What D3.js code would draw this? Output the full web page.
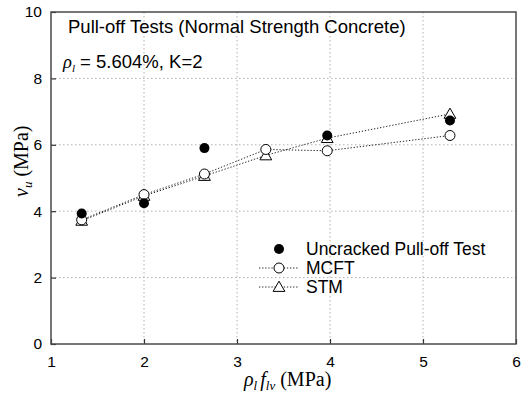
<!DOCTYPE html>
<html>
<head>
<meta charset="utf-8">
<script src="https://cdn.jsdelivr.net/npm/d3@7"></script>
<style>
  body { margin: 0; background: #fff; }
  svg { display: block; }
</style>
</head>
<body>
<div id="chart"></div>
<script>
const w = 521,
    h = 393,
    plotLeft = 51,
    plotRight = 516,
    plotTop = 12,
    plotBottom = 344,
    sans = 'Liberation Sans, Arial, sans-serif',
    serif = 'Liberation Serif, Times New Roman, serif';

// values
const xTicks = [1, 2, 3, 4, 5, 6];
const yTicks = [0, 2, 4, 6, 8, 10];
const uncrackedX = [1.33, 2.0, 2.65, 3.97, 5.29];
const uncrackedY = [3.93, 4.24, 5.9, 6.28, 6.73];
const modelX = [1.33, 2.0, 2.65, 3.31, 3.97, 5.29];
const mcftY = [3.74, 4.5, 5.12, 5.86, 5.82, 6.28];
const stmY = [3.71, 4.46, 5.06, 5.68, 6.2, 6.93];

const x = d3.scaleLinear().domain([1, 6]).range([plotLeft, plotRight]);
const y = d3.scaleLinear().domain([0, 10]).range([plotBottom, plotTop]);

const svg = d3.select('#chart').append('svg')
    .attr('width', w)
    .attr('height', h);

// grid
svg.append('g')
    .selectAll('line')
    .data(xTicks.slice(1, -1))
    .join('line')
    .attr('x1', d => x(d)).attr('x2', d => x(d))
    .attr('y1', plotTop).attr('y2', plotBottom)
    .attr('stroke', '#b0b0b0')
    .attr('stroke-dasharray', '1.5,2.5');

svg.append('g')
    .selectAll('line')
    .data(yTicks.slice(1, -1))
    .join('line')
    .attr('y1', d => y(d)).attr('y2', d => y(d))
    .attr('x1', plotLeft).attr('x2', plotRight)
    .attr('stroke', '#b0b0b0')
    .attr('stroke-dasharray', '1.5,2.5');

// axes with inward ticks
const xAxis = svg.append('g')
    .attr('transform', 'translate(0,' + plotBottom + ')')
    .call(d3.axisBottom(x).tickValues(xTicks).tickSize(-5).tickPadding(12).tickFormat(d3.format('d')));

const yAxis = svg.append('g')
    .attr('transform', 'translate(' + plotLeft + ',0)')
    .call(d3.axisLeft(y).tickValues(yTicks).tickSize(-5).tickPadding(9).tickFormat(d3.format('d')));

[xAxis, yAxis].forEach(a => {
    a.select('.domain').remove();
    a.selectAll('line').attr('stroke', '#333').attr('stroke-width', 1.2);
    a.selectAll('text')
        .attr('fill', '#000')
        .style('font-family', sans)
        .style('font-size', '15.5px');
});

// frame
svg.append('rect')
    .attr('x', plotLeft).attr('y', plotTop)
    .attr('width', plotRight - plotLeft).attr('height', plotBottom - plotTop)
    .attr('fill', 'none')
    .attr('stroke', '#4a4a4a')
    .attr('stroke-width', 1.5);

// model lines
const line = d3.line().x(d => x(d[0])).y(d => y(d[1]));

[mcftY, stmY].forEach(ys => {
    svg.append('path')
        .attr('d', line(modelX.map((v, i) => [v, ys[i]])))
        .attr('fill', 'none')
        .attr('stroke', '#222')
        .attr('stroke-width', 1)
        .attr('stroke-dasharray', '1.3,1.8');
});

const tri = d3.symbol().type(d3.symbolTriangle).size(60);

// markers
svg.append('g')
    .selectAll('path')
    .data(modelX.map((v, i) => [v, stmY[i]]))
    .join('path')
    .attr('d', tri)
    .attr('transform', d => 'translate(' + x(d[0]) + ',' + (y(d[1]) + 1) + ')')
    .attr('fill', '#fff')
    .attr('stroke', '#000')
    .attr('stroke-width', 1);

svg.append('g')
    .selectAll('circle')
    .data(modelX.map((v, i) => [v, mcftY[i]]))
    .join('circle')
    .attr('cx', d => x(d[0])).attr('cy', d => y(d[1]))
    .attr('r', 5)
    .attr('fill', '#fff')
    .attr('stroke', '#000')
    .attr('stroke-width', 1);

svg.append('g')
    .selectAll('circle')
    .data(uncrackedX.map((v, i) => [v, uncrackedY[i]]))
    .join('circle')
    .attr('cx', d => x(d[0])).attr('cy', d => y(d[1]))
    .attr('r', 5)
    .attr('fill', '#000');

// legend
const lg = svg.append('g').attr('transform', 'translate(279,249)');
lg.append('circle').attr('cx', 0).attr('cy', 0).attr('r', 5).attr('fill', '#000');
lg.append('line').attr('x1', -20).attr('x2', 20).attr('y1', 19).attr('y2', 19)
    .attr('stroke', '#222').attr('stroke-dasharray', '1.3,1.8');
lg.append('circle').attr('cx', 0).attr('cy', 19).attr('r', 5).attr('fill', '#fff').attr('stroke', '#000');
lg.append('line').attr('x1', -20).attr('x2', 20).attr('y1', 38).attr('y2', 38)
    .attr('stroke', '#222').attr('stroke-dasharray', '1.3,1.8');
lg.append('path').attr('d', tri).attr('transform', 'translate(0,39)')
    .attr('fill', '#fff').attr('stroke', '#000');
['Uncracked Pull-off Test', 'MCFT', 'STM'].forEach((t, i) => {
    lg.append('text')
        .attr('x', 27).attr('y', i * 19 + 6)
        .style('font-family', sans)
        .style('font-size', '17.5px')
        .text(t);
});

// annotation
svg.append('text')
    .attr('x', 68).attr('y', 33)
    .style('font-family', sans)
    .style('font-size', '18.5px')
    .text('Pull-off Tests (Normal Strength Concrete)');

const note = svg.append('text')
    .attr('x', 63).attr('y', 68)
    .style('font-family', sans)
    .style('font-size', '18.5px');
note.append('tspan').style('font-family', serif).style('font-style', 'italic').text('ρ');
note.append('tspan').style('font-family', serif).style('font-style', 'italic')
    .style('font-size', '11px').attr('dy', 4).text('l');
note.append('tspan').attr('dy', -4).text(' = 5.604%, K=2');

// axis titles
const xt = svg.append('text')
    .attr('x', 244).attr('y', 386)
    .style('font-family', serif)
    .style('font-size', '20px');
xt.append('tspan').style('font-style', 'italic').text('ρ');
xt.append('tspan').style('font-style', 'italic').style('font-size', '13px').attr('dy', 4).text('l');
xt.append('tspan').style('font-style', 'italic').attr('dy', -4).attr('dx', 3).text('f');
xt.append('tspan').style('font-style', 'italic').style('font-size', '13px').attr('dy', 4).text('lv');
xt.append('tspan').attr('dy', -4).text('  (MPa)');

const yt = svg.append('text')
    .attr('transform', 'translate(28,197) rotate(-90)')
    .style('font-family', serif)
    .style('font-size', '20px');
yt.append('tspan').style('font-style', 'italic').text('v');
yt.append('tspan').style('font-style', 'italic').style('font-size', '13px').attr('dy', 4).text('u');
yt.append('tspan').attr('dy', -4).text(' (MPa)');
</script>
</body>
</html>
